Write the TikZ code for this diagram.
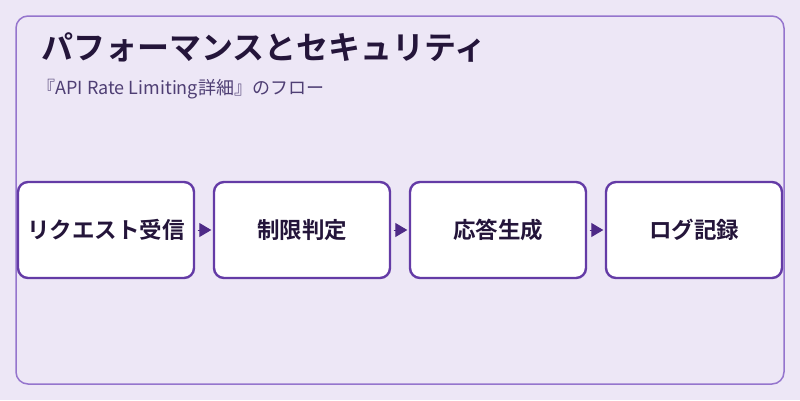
\documentclass[tikz,border=0pt]{standalone}
\usepackage{fontspec}
\setmainfont{Noto Sans CJK JP}
\newfontfamily\jpbold{Noto Sans CJK JP Bold}
\usetikzlibrary{arrows.meta}
\definecolor{bgc}{HTML}{EDE7F6}
\definecolor{framec}{HTML}{9575CD}
\definecolor{boxc}{HTML}{643BA6}
\definecolor{arrc}{HTML}{4E2A87}
\definecolor{titlec}{HTML}{24153A}
\definecolor{subc}{HTML}{4F3F74}
\tikzset{
  stepbox/.style={draw=boxc, line width=2.4pt, fill=white, rounded corners=10pt,
    minimum width=176pt, minimum height=96pt, inner sep=0pt,
    font=\jpbold\fontsize{22.5}{26}\selectfont, text=titlec},
  flow/.style={-{Triangle[length=12pt,width=14pt]}, draw=arrc, fill=arrc, line width=1pt, shorten >=1.5pt, shorten <=2.5pt}
}
\begin{document}
\begin{tikzpicture}[x=1pt,y=-1pt]
\useasboundingbox (0,0) rectangle (800,400);
\fill[bgc] (0,0) rectangle (800,400);
\draw[framec, line width=1.5pt, rounded corners=12pt] (16,16) rectangle (784,384);
\node[anchor=west, text=titlec, font=\jpbold\fontsize{32}{38}\selectfont] (title) at (38,47) {パフォーマンスとセキュリティ};
\node[anchor=west, text=subc, font=\fontsize{18}{22}\selectfont] (sub) at (34,89) {『API Rate Limiting詳細』のフロー};
\node[stepbox] (a) at (106,230) {リクエスト受信};
\node[stepbox] (b) at (302,230) {制限判定};
\node[stepbox] (c) at (498,230) {応答生成};
\node[stepbox] (d) at (694,230) {ログ記録};
\draw[flow] (a.east) -- (b.west);
\draw[flow] (b.east) -- (c.west);
\draw[flow] (c.east) -- (d.west);
\end{tikzpicture}
\end{document}
